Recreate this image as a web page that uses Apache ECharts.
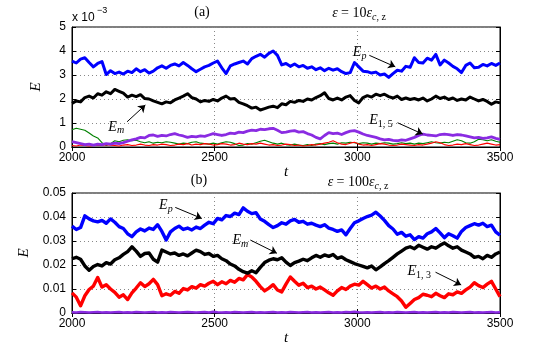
<!DOCTYPE html>
<html>
<head>
<meta charset="utf-8">
<script src="https://cdn.jsdelivr.net/npm/echarts@6/dist/echarts.min.js"></script>
<style>
  html, body { margin: 0; padding: 0; background: #fff; }
  #main { width: 552px; height: 359px; }
</style>
</head>
<body>
<div id="main"></div>
<script>
// sample times (t)
var times = [
  2000,2015,2030,2045,2060,2075,2090,2105,2120,2135,
  2150,2165,2180,2195,2210,2225,2240,2255,2270,2285,
  2300,2315,2330,2345,2360,2375,2390,2405,2420,2435,
  2450,2465,2480,2495,2510,2525,2540,2555,2570,2585,
  2600,2615,2630,2645,2660,2675,2690,2705,2720,2735,
  2750,2765,2780,2795,2810,2825,2840,2855,2870,2885,
  2900,2915,2930,2945,2960,2975,2990,3005,3020,3035,
  3050,3065,3080,3095,3110,3125,3140,3155,3170,3185,
  3200,3215,3230,3245,3260,3275,3290,3305,3320,3335,
  3350,3365,3380,3395,3410,3425,3440,3455,3470,3485,
  3500
];

// panel (a), values in units of 1e-3
var epA = [
  3.58,3.50,3.66,3.72,3.52,3.34,3.48,3.56,3.02,3.18,
  3.06,3.12,3.04,3.16,3.10,3.26,3.14,3.22,3.08,3.16,
  3.30,3.38,3.28,3.40,3.46,3.38,3.52,3.40,3.26,3.14,
  3.24,3.34,3.40,3.50,3.58,3.30,3.06,3.38,3.46,3.52,
  3.58,3.46,3.68,3.78,3.86,3.74,3.90,4.00,3.82,3.42,
  3.48,3.36,3.46,3.34,3.40,3.28,3.34,3.22,3.30,3.18,
  3.28,3.20,3.26,3.14,3.06,3.10,3.52,3.34,3.16,3.14,
  3.08,3.12,3.00,3.04,2.90,3.06,3.20,3.16,3.36,3.32,
  3.72,3.52,3.50,3.70,3.62,3.86,3.42,3.62,3.50,3.36,
  3.26,3.10,3.40,3.50,3.30,3.32,3.44,3.38,3.48,3.40,
  3.50
];
var emA = [
  1.82,1.92,1.88,2.06,2.12,2.04,2.22,2.16,2.30,2.22,
  2.40,2.32,2.24,2.08,2.16,2.10,2.18,2.02,2.00,1.92,
  1.86,1.80,1.88,1.84,1.96,2.04,2.12,2.22,2.06,2.00,
  1.88,1.94,1.90,1.98,1.92,2.04,2.12,2.00,2.02,1.86,
  1.80,1.72,1.62,1.66,1.54,1.60,1.66,1.70,1.64,1.80,
  1.76,1.90,1.86,1.94,1.90,2.00,1.96,2.06,2.14,2.26,
  2.02,1.96,2.04,1.96,2.08,2.14,1.94,1.84,2.06,2.14,
  2.08,2.20,2.14,2.20,2.10,2.04,2.12,1.98,2.04,1.98,
  2.02,1.96,2.04,1.92,2.00,2.12,2.02,2.08,1.98,2.04,
  1.94,2.00,1.96,2.08,2.00,1.92,1.98,1.90,1.78,1.88,
  1.84
];
var e15A = [
  0.22,0.18,0.14,0.10,0.12,0.08,0.12,0.10,0.14,0.12,
  0.16,0.14,0.18,0.24,0.30,0.34,0.40,0.38,0.48,0.50,
  0.44,0.48,0.46,0.52,0.56,0.50,0.46,0.40,0.44,0.42,
  0.46,0.44,0.50,0.56,0.52,0.48,0.52,0.58,0.56,0.62,
  0.60,0.66,0.70,0.68,0.74,0.72,0.76,0.78,0.70,0.60,
  0.62,0.66,0.68,0.62,0.64,0.56,0.50,0.40,0.34,0.48,
  0.60,0.56,0.58,0.52,0.60,0.66,0.68,0.62,0.54,0.48,
  0.44,0.40,0.34,0.30,0.32,0.28,0.26,0.30,0.28,0.34,
  0.40,0.48,0.54,0.50,0.48,0.46,0.52,0.54,0.52,0.48,
  0.52,0.50,0.46,0.42,0.38,0.40,0.36,0.38,0.42,0.36,
  0.32
];
var greenA = [
  0.72,0.78,0.74,0.70,0.58,0.46,0.38,0.18,0.06,0.14,
  0.26,0.22,0.28,0.30,0.26,0.28,0.22,0.18,0.22,0.16,
  0.20,0.18,0.22,0.20,0.16,0.12,0.16,0.14,0.20,0.22,
  0.16,0.14,0.12,0.16,0.12,0.18,0.22,0.20,0.14,0.06,
  0.08,0.14,0.12,0.18,0.24,0.28,0.22,0.16,0.12,0.16,
  0.10,0.08,0.12,0.08,0.06,0.10,0.06,0.12,0.14,0.10,
  0.14,0.16,0.12,0.18,0.16,0.20,0.18,0.14,0.18,0.16,
  0.12,0.16,0.14,0.18,0.16,0.12,0.14,0.18,0.14,0.16,
  0.12,0.16,0.14,0.18,0.22,0.18,0.16,0.20,0.18,0.24,
  0.30,0.26,0.18,0.16,0.22,0.32,0.30,0.26,0.30,0.24,
  0.20
];
var redA = [
  0.06,0.04,0.08,0.06,0.04,0.06,0.08,0.06,0.10,0.08,
  0.06,0.04,0.08,0.10,0.06,0.08,0.12,0.08,0.06,0.10,
  0.08,0.12,0.10,0.06,0.08,0.12,0.10,0.14,0.08,0.12,
  0.10,0.14,0.12,0.08,0.10,0.14,0.12,0.08,0.10,0.16,
  0.12,0.10,0.14,0.12,0.16,0.12,0.08,0.10,0.06,0.08,
  0.12,0.10,0.06,0.08,0.04,0.06,0.10,0.08,0.12,0.16,
  0.20,0.26,0.18,0.12,0.10,0.16,0.20,0.12,0.08,0.10,
  0.06,0.10,0.14,0.12,0.08,0.06,0.08,0.12,0.10,0.08,
  0.06,0.10,0.08,0.12,0.16,0.22,0.18,0.10,0.06,0.08,
  0.12,0.10,0.14,0.10,0.06,0.08,0.12,0.16,0.12,0.08,
  0.10
];

// panel (b)
var epB = [
  0.0362,0.0348,0.0356,0.0405,0.0392,0.0384,0.0380,0.0386,0.0374,0.0392,
  0.0378,0.0360,0.0352,0.0330,0.0318,0.0338,0.0350,0.0342,0.0354,0.0348,
  0.0368,0.0340,0.0304,0.0338,0.0352,0.0362,0.0348,0.0354,0.0346,0.0358,
  0.0352,0.0366,0.0378,0.0372,0.0394,0.0388,0.0406,0.0402,0.0416,0.0410,
  0.0438,0.0424,0.0414,0.0418,0.0392,0.0382,0.0368,0.0356,0.0364,0.0376,
  0.0370,0.0384,0.0390,0.0378,0.0382,0.0370,0.0374,0.0366,0.0360,0.0368,
  0.0354,0.0348,0.0340,0.0346,0.0326,0.0352,0.0376,0.0384,0.0394,0.0402,
  0.0408,0.0420,0.0404,0.0386,0.0364,0.0350,0.0328,0.0336,0.0320,0.0326,
  0.0306,0.0318,0.0312,0.0330,0.0338,0.0352,0.0334,0.0314,0.0330,0.0322,
  0.0312,0.0340,0.0356,0.0364,0.0372,0.0366,0.0374,0.0360,0.0366,0.0338,
  0.0324
];
var emB = [
  0.0226,0.0232,0.0224,0.0196,0.0178,0.0194,0.0202,0.0196,0.0210,0.0204,
  0.0222,0.0230,0.0244,0.0256,0.0276,0.0258,0.0236,0.0248,0.0250,0.0224,
  0.0212,0.0262,0.0254,0.0246,0.0250,0.0240,0.0246,0.0238,0.0250,0.0262,
  0.0256,0.0244,0.0248,0.0236,0.0240,0.0226,0.0218,0.0204,0.0196,0.0182,
  0.0172,0.0166,0.0176,0.0168,0.0190,0.0210,0.0220,0.0226,0.0222,0.0230,
  0.0212,0.0198,0.0210,0.0216,0.0224,0.0218,0.0230,0.0240,0.0232,0.0242,
  0.0236,0.0244,0.0228,0.0234,0.0222,0.0214,0.0206,0.0200,0.0194,0.0188,
  0.0196,0.0180,0.0192,0.0206,0.0218,0.0232,0.0246,0.0258,0.0270,0.0276,
  0.0268,0.0282,0.0274,0.0266,0.0276,0.0270,0.0282,0.0292,0.0280,0.0270,
  0.0276,0.0262,0.0254,0.0246,0.0232,0.0236,0.0226,0.0240,0.0232,0.0246,
  0.0254
];
var e13B = [
  0.0084,0.0066,0.0030,0.0072,0.0098,0.0112,0.0148,0.0108,0.0118,0.0100,
  0.0086,0.0066,0.0076,0.0056,0.0084,0.0104,0.0126,0.0110,0.0122,0.0140,
  0.0118,0.0072,0.0080,0.0074,0.0090,0.0082,0.0102,0.0096,0.0110,0.0104,
  0.0118,0.0112,0.0124,0.0132,0.0118,0.0130,0.0122,0.0136,0.0128,0.0144,
  0.0138,0.0160,0.0150,0.0132,0.0110,0.0092,0.0104,0.0118,0.0096,0.0088,
  0.0120,0.0150,0.0132,0.0116,0.0124,0.0106,0.0112,0.0100,0.0108,0.0096,
  0.0084,0.0074,0.0092,0.0106,0.0098,0.0112,0.0120,0.0116,0.0132,0.0118,
  0.0104,0.0112,0.0100,0.0108,0.0092,0.0080,0.0068,0.0050,0.0024,0.0040,
  0.0056,0.0064,0.0078,0.0074,0.0068,0.0082,0.0072,0.0064,0.0080,0.0076,
  0.0088,0.0082,0.0096,0.0108,0.0126,0.0114,0.0106,0.0120,0.0132,0.0100,
  0.0068
];
var purpleB = [
  0.0003,0.0002,0.0004,0.0003,0.0002,0.0003,0.0004,0.0002,0.0003,0.0002,
  0.0003,0.0004,0.0002,0.0003,0.0002,0.0004,0.0003,0.0002,0.0003,0.0004,
  0.0002,0.0003,0.0002,0.0004,0.0003,0.0002,0.0003,0.0004,0.0003,0.0002,
  0.0003,0.0004,0.0002,0.0005,0.0003,0.0002,0.0003,0.0002,0.0004,0.0003,
  0.0002,0.0003,0.0004,0.0002,0.0003,0.0002,0.0003,0.0004,0.0002,0.0003,
  0.0002,0.0004,0.0003,0.0002,0.0003,0.0004,0.0002,0.0003,0.0002,0.0003,
  0.0004,0.0002,0.0003,0.0002,0.0004,0.0003,0.0005,0.0003,0.0002,0.0003,
  0.0002,0.0003,0.0004,0.0002,0.0003,0.0002,0.0004,0.0003,0.0002,0.0003,
  0.0004,0.0002,0.0003,0.0002,0.0003,0.0004,0.0002,0.0003,0.0002,0.0004,
  0.0003,0.0002,0.0003,0.0004,0.0002,0.0003,0.0002,0.0003,0.0004,0.0002,
  0.0003
];

var yTicksA = [0, 5, 1];      // min, max, interval (x 10^-3)
var yTicksB = [0, 0.05, 0.01];
var xTicks = [2000, 3500, 500];

var serif = 'Liberation Serif';
var sans = 'Liberation Sans';

var mathRich = {
  i: { fontFamily: serif, fontStyle: 'italic', fontSize: 14, lineHeight: 18, color: '#000' },
  u: { fontFamily: serif, fontSize: 14, lineHeight: 18, color: '#000' },
  s: { fontFamily: serif, fontStyle: 'italic', fontSize: 10, lineHeight: 10, verticalAlign: 'bottom', color: '#000' },
  su: { fontFamily: serif, fontSize: 10, lineHeight: 10, verticalAlign: 'bottom', color: '#000' }
};

function pairs(ys) {
  return times.map(function (t, i) { return [t, ys[i]]; });
}

function xAxisFor(g, top) {
  return {
    gridIndex: g, type: 'value', position: top ? 'top' : 'bottom',
    min: xTicks[0], max: xTicks[1], interval: xTicks[2],
    name: top ? '' : 't', nameLocation: 'middle', nameGap: 8,
    nameTextStyle: { fontFamily: serif, fontStyle: 'italic', fontSize: 15, color: '#000' },
    axisLine: { lineStyle: { color: '#000', width: 1 } },
    axisTick: { inside: true, length: 4, lineStyle: { color: '#000' } },
    axisLabel: { show: !top, color: '#000', fontFamily: sans, fontSize: 12, margin: 5,
      formatter: function (v) { return String(v); } },
    splitLine: { show: !top, lineStyle: { color: '#888', type: [1, 3] } }
  };
}
function yAxisFor(g, right, ticks) {
  return {
    gridIndex: g, type: 'value', position: right ? 'right' : 'left',
    min: ticks[0], max: ticks[1], interval: ticks[2],
    name: right ? '' : 'E', nameLocation: 'middle', nameGap: 28,
    nameTextStyle: { fontFamily: serif, fontStyle: 'italic', fontSize: 15, color: '#000' },
    axisLine: { show: true, lineStyle: { color: '#000', width: 1 } },
    axisTick: { show: true, inside: true, length: 4, lineStyle: { color: '#000' } },
    axisLabel: { show: !right, color: '#000', fontFamily: sans, fontSize: 12, margin: 6 },
    splitLine: { show: !right, lineStyle: { color: '#888', type: [1, 3] } }
  };
}

function line(name, ys, color, width, axis) {
  return {
    name: name, type: 'line', data: pairs(ys),
    xAxisIndex: axis, yAxisIndex: axis,
    showSymbol: false, symbol: 'none', animation: false,
    lineStyle: { color: color, width: width, join: 'round' }, z: 2
  };
}

function arrows(list) {
  return {
    silent: true, animation: false, symbol: ['none', 'arrow'], symbolSize: 7,
    label: { show: false },
    lineStyle: { color: '#000', width: 1, type: 'solid' },
    data: list.map(function (a) { return [{ coord: a[0] }, { coord: a[1] }]; })
  };
}
function tags(list) {
  return {
    silent: true, animation: false, symbol: 'circle', symbolSize: 1,
    itemStyle: { color: 'rgba(0,0,0,0)' },
    label: { show: true, position: 'inside', rich: mathRich },
    data: list.map(function (a) { return { coord: a[0], label: { formatter: a[1] } }; })
  };
}

var chart = echarts.init(document.getElementById('main'));

var sEpA = line('Ep', epA, '#0000ff', 3, 0);
sEpA.markLine = arrows([
  [[2193, 1.05], [2257, 1.75]],
  [[3042, 3.82], [3133, 3.34]],
  [[3141, 1.01], [3229, 0.54]]
]);
sEpA.markPoint = tags([
  [[2155, 0.84], '{i|E}{s|m}'],
  [[3008, 3.96], '{i|E}{s|p}'],
  [[3083, 1.12], '{i|E}{su|1, 5}']
]);

var sEpB = line('Ep', epB, '#0000ff', 3.4, 2);
sEpB.markLine = arrows([
  [[2362, 0.0440], [2455, 0.0394]],
  [[2625, 0.0304], [2718, 0.0249]],
  [[3274, 0.0170], [3364, 0.0117]]
]);
sEpB.markPoint = tags([
  [[2329, 0.0450], '{i|E}{s|p}'],
  [[2590, 0.0304], '{i|E}{s|m}'],
  [[3217, 0.0172], '{i|E}{su|1, 3}']
]);

var option = {
  backgroundColor: '#fff',
  animation: false,
  grid: [
    { left: 72, right: 52, top: 27, height: 120, show: true, borderColor: '#000', borderWidth: 1, backgroundColor: 'transparent' },
    { left: 72, right: 52, top: 193, height: 120, show: true, borderColor: '#000', borderWidth: 1, backgroundColor: 'transparent' }
  ],
  xAxis: [xAxisFor(0, false), xAxisFor(0, true), xAxisFor(1, false), xAxisFor(1, true)],
  yAxis: [yAxisFor(0, false, yTicksA), yAxisFor(0, true, yTicksA), yAxisFor(1, false, yTicksB), yAxisFor(1, true, yTicksB)],
  series: [
    line('E green', greenA, '#008000', 1.1, 0),
    line('E red', redA, '#ff0000', 1.1, 0),
    line('E15', e15A, '#8a2be2', 2.8, 0),
    line('Em', emA, '#000000', 3, 0),
    sEpA,
    line('E purple', purpleB, '#8a2be2', 2.6, 2),
    line('E13', e13B, '#ff0000', 3.4, 2),
    line('Em', emB, '#000000', 3.4, 2),
    sEpB
  ],
  graphic: [
    { type: 'text', x: 202, y: 12, style: { text: '(a)', fontFamily: serif, fontSize: 14, fill: '#000', align: 'center', verticalAlign: 'middle' } },
    { type: 'text', x: 359, y: 13, style: { text: '{i|ε} {u|= 10}{i|ε}{s|c}{su|, z}', rich: mathRich, align: 'center', verticalAlign: 'middle' } },
    { type: 'text', x: 199, y: 180, style: { text: '(b)', fontFamily: serif, fontSize: 14, fill: '#000', align: 'center', verticalAlign: 'middle' } },
    { type: 'text', x: 358, y: 182, style: { text: '{i|ε} {u|= 100}{i|ε}{s|c}{su|, z}', rich: mathRich, align: 'center', verticalAlign: 'middle' } },
    { type: 'text', x: 72, y: 18, style: { text: 'x 10', fontFamily: sans, fontSize: 12, fill: '#000', align: 'left', verticalAlign: 'middle' } },
    { type: 'text', x: 97, y: 11, style: { text: '\u22123', fontFamily: sans, fontSize: 9, fill: '#000', align: 'left', verticalAlign: 'middle' } }
  ]
};

chart.setOption(option);
</script>
</body>
</html>
